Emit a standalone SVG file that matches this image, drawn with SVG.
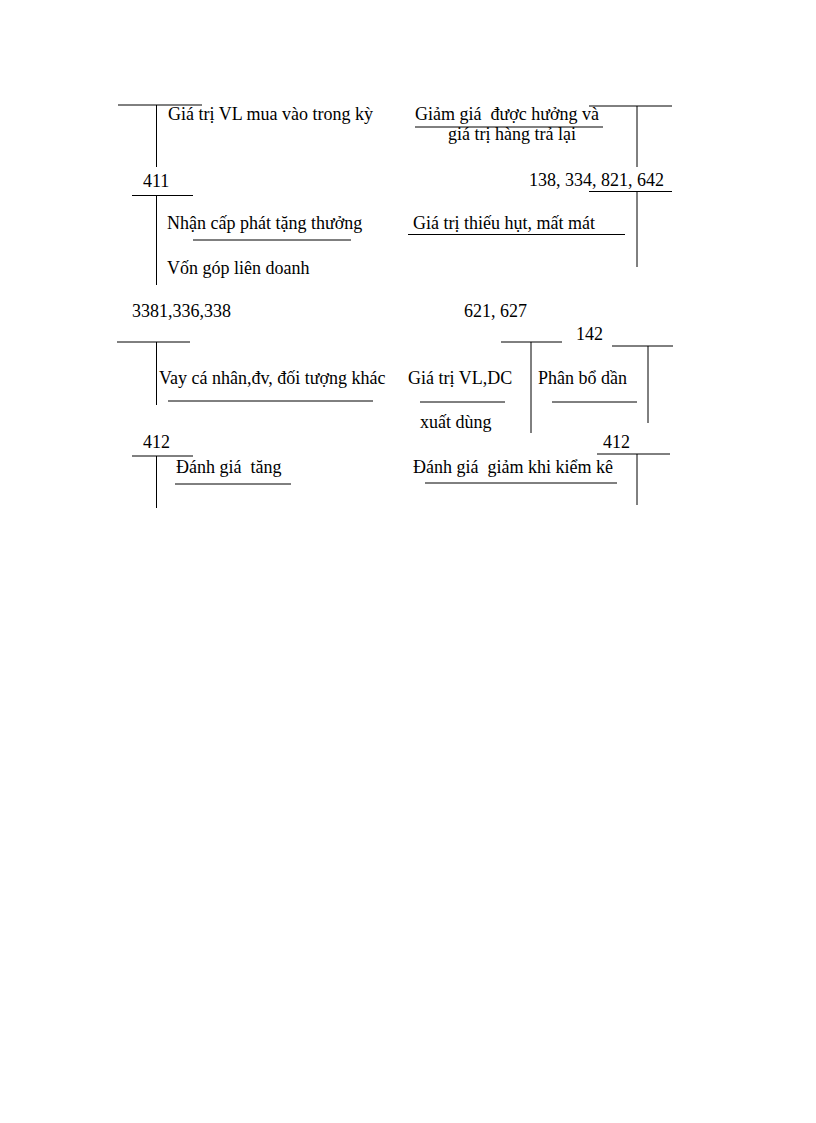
<svg xmlns="http://www.w3.org/2000/svg" width="816" height="1123" viewBox="0 0 816 1123">
<style>
text{font-family:"Liberation Serif","Times New Roman",serif;font-size:18px;fill:#000;white-space:pre}
line{stroke:#000;stroke-width:1}
</style>
<rect width="816" height="1123" fill="#fff"/>
<g id="connectors">
<line x1="118" y1="105" x2="202" y2="105"/>
<line x1="156.5" y1="105" x2="156.5" y2="167"/>
<line x1="132" y1="195.5" x2="193" y2="195.5"/>
<line x1="156.5" y1="195.5" x2="156.5" y2="285"/>
<line x1="193" y1="240" x2="351" y2="240"/>
<line x1="117" y1="342" x2="190" y2="342"/>
<line x1="156.5" y1="342" x2="156.5" y2="405"/>
<line x1="168" y1="401" x2="373" y2="401"/>
<line x1="132" y1="456" x2="193" y2="456"/>
<line x1="156.5" y1="456" x2="156.5" y2="508"/>
<line x1="175" y1="484" x2="291" y2="484"/>
<line x1="415" y1="127" x2="603" y2="127"/>
<line x1="589" y1="106" x2="672" y2="106"/>
<line x1="637" y1="106" x2="637" y2="167"/>
<line x1="589" y1="191.5" x2="672" y2="191.5"/>
<line x1="637" y1="191.5" x2="637" y2="267"/>
<line x1="408" y1="234.5" x2="625" y2="234.5"/>
<line x1="501" y1="342" x2="562" y2="342"/>
<line x1="531" y1="342" x2="531" y2="433"/>
<line x1="612" y1="346" x2="673" y2="346"/>
<line x1="648" y1="346" x2="648" y2="423"/>
<line x1="420" y1="402" x2="505" y2="402"/>
<line x1="552" y1="402" x2="637" y2="402"/>
<line x1="597" y1="454" x2="670" y2="454"/>
<line x1="637" y1="454" x2="637" y2="505"/>
<line x1="425" y1="483" x2="617" y2="483"/>
</g>
<g id="left-labels">
<text x="168" y="120">Giá trị VL mua vào trong kỳ</text>
<text x="143" y="187">411</text>
<text x="167" y="229">Nhận cấp phát tặng thưởng</text>
<text x="167" y="274">Vốn góp liên doanh</text>
<text x="132" y="317">3381,336,338</text>
<text x="159" y="384">Vay cá nhân,đv, đối tượng khác</text>
<text x="143" y="448">412</text>
<text x="176" y="473">Đánh giá  tăng</text>
</g>
<g id="right-labels">
<text x="415" y="120">Giảm giá  được hưởng và</text>
<text x="448" y="140">giá trị hàng trả lại</text>
<text x="529" y="186">138, 334, 821, 642</text>
<text x="413" y="229">Giá trị thiếu hụt, mất mát</text>
<text x="464" y="317">621, 627</text>
<text x="576" y="340">142</text>
<text x="408" y="384">Giá trị VL,DC</text>
<text x="420" y="428">xuất dùng</text>
<text x="538" y="384">Phân bổ dần</text>
<text x="603" y="448">412</text>
<text x="413" y="473">Đánh giá  giảm khi kiểm kê</text>
</g>
</svg>
